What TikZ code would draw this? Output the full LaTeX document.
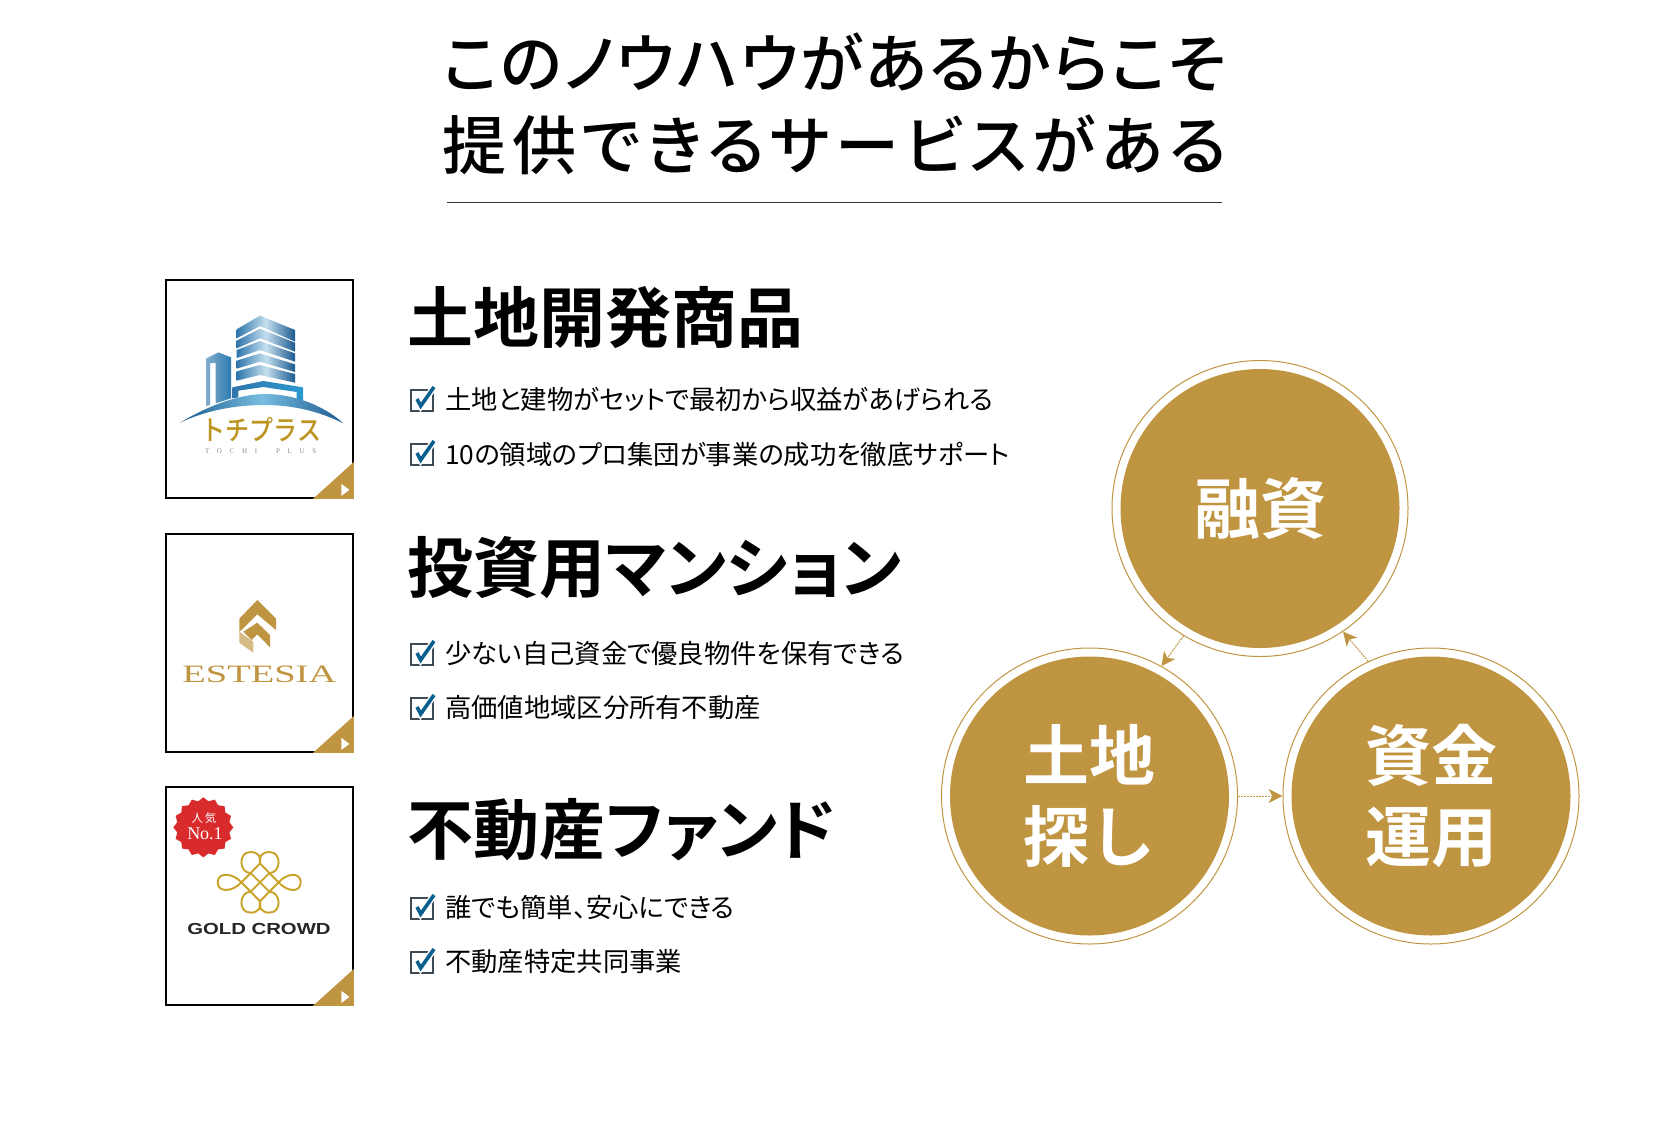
\documentclass[tikz,border=0pt]{standalone}
\usepackage{fontspec}
\usetikzlibrary{arrows.meta,shapes.geometric}
\setmainfont{Noto Sans CJK JP}
\newfontfamily\jpreg[RawFeature=+palt]{Noto Sans CJK JP}
\newfontfamily\jpbold[RawFeature=+palt]{Noto Sans CJK JP Bold}
\newfontfamily\titlea[RawFeature=+palt,LetterSpace=3.4]{Noto Sans CJK JP Medium}
\newfontfamily\titleb[RawFeature=+palt,LetterSpace=9.0]{Noto Sans CJK JP Medium}
\newfontfamily\jpplain{Noto Sans CJK JP}
\newfontfamily\jpplainbold{Noto Sans CJK JP Bold}
\newfontfamily\logoserif{Liberation Serif}
\newfontfamily\logosans{Liberation Sans Bold}
\newfontfamily\tochi{Noto Sans CJK JP Medium}
\newfontfamily\tochilatin[LetterSpace=110]{Liberation Serif}
\definecolor{gold}{HTML}{C09541}
\definecolor{boxgray}{HTML}{3E4A54}
\definecolor{chkblue}{HTML}{0B5F8E}
\definecolor{towerl}{HTML}{2F75AB}
\definecolor{towerm}{HTML}{C4DFEE}
\definecolor{towerr}{HTML}{1C5A90}
\definecolor{skyblue}{HTML}{2A9AD0}
\definecolor{tochigold}{HTML}{BC941F}
\definecolor{badgered}{HTML}{D92B2C}
\definecolor{knotgold}{HTML}{C9A227}
\tikzset{
 titletext/.style={inner sep=0,anchor=center,text height=56,text depth=6},
 headtext/.style={inner sep=0,anchor=west,font=\jpbold\fontsize{66}{66}\selectfont,text height=54,text depth=6},
 rowtext/.style={inner sep=0,anchor=west,font=\jpreg\fontsize{26.3}{26.3}\selectfont,text height=21,text depth=3},
 cardbox/.style={draw=black,line width=2.4,fill=white,minimum width=186.5,minimum height=217.5,inner sep=0,anchor=north west},
 ringnode/.style={circle,draw=gold,line width=1,minimum size=296,inner sep=0},
 discnode/.style={circle,fill=gold,minimum size=279,inner sep=0,text=white,align=center,font=\jpplainbold\fontsize{66}{81}\selectfont},
 flowarrow/.style={gold,line width=1,dash pattern=on 2 off 1,-{Stealth[length=14,width=14,inset=4,sep=0]}},
 chkbox/.pic={
  \draw[boxgray,line width=2.6] (1,1) rectangle (23,22);
  \draw[white,line width=6.5] (7,10) -- (10.7,17) -- (24,-2);
  \draw[chkblue,line width=3.6] (7,10) -- (10.7,17) -- (24,-2);
 },
 cornermark/.pic={
  \fill[gold] (-41,0) -- (0,-37) -- (0,0) -- cycle;
  \fill[white] (-12.5,-15) -- (-4.5,-9) -- (-12.5,-3) -- cycle;
 },
}
\begin{document}
\begin{tikzpicture}[x=1pt,y=-1pt]
\useasboundingbox (0,0) rectangle (1668,1120);

% title
\node[titletext] (t1) at (834.5,62) {\titlea\fontsize{64}{64}\selectfont このノウハウがあるからこそ};
\node[titletext] (t2) at (834.5,144) {\titleb\fontsize{64}{64}\selectfont 提供できるサービスがある};
\draw[line width=1,black!80] (447,202) -- (1222,202);

% cards
\node[cardbox] (c1) at (165,279) {};
\node[cardbox] (c2) at (165,533) {};
\node[cardbox] (c3) at (165,786) {};
\pic at (c1.south east) {cornermark};
\pic at (c2.south east) {cornermark};
\pic at (c3.south east) {cornermark};

% logo 1
\begin{scope}[shift={(150,270)},scale=1/3]
 \foreach \la/\lb/\pa/\pb/\ra/\rb in {178/205/137/168/180/215, 212/235/176/205/218/245, 240/264/213/240/250/275, 272/296/250/275/283/306, 304/332/285/315/312/338}{
  \shade[left color=towerl,right color=towerr,middle color=towerm] (260,\la) -- (330,\pa) -- (435,\ra) -- (435,\rb) -- (330,\pb) -- (260,\lb) -- cycle;
 }
 \shade[left color=towerl!60,right color=towerl!80!skyblue] (168,266) -- (205,247) -- (243,262) -- (243,385) -- (197,400) -- (197,278) -- (180,280) -- (180,405) -- (168,408) -- cycle;
 \shade[left color=towerl,right color=skyblue] (247,352) -- (340,333) -- (459,352) -- (459,392) -- (440,388) -- (440,366) -- (340,351) -- (265,362) -- (265,382) -- (247,385) -- cycle;
 \shade[left color=towerr,right color=towerr,middle color=towerm!50!skyblue] (90,458) .. controls (190,398) and (280,372) .. (345,372) .. controls (430,372) and (520,405) .. (580,460) .. controls (510,425) and (430,405) .. (345,405) .. controls (260,405) and (170,420) .. (90,458) -- cycle;
 \node[inner sep=0,text=tochigold] (l1a) at (335,479) {\tochi\fontsize{24}{24}\selectfont\scalebox{1}[1.15]{トチプラス}};
 \node[inner sep=0,text=black!45] (l1b) at (332,543) {\tochilatin\fontsize{7}{7}\selectfont TOCHI\ \ PLUS};
\end{scope}

% logo 2
\begin{scope}[shift={(150,520)},scale=1/3]
 \fill[gold] (322,240) -- (378,296) -- (378,330) -- (322,283) -- (279,326) -- (268,335) -- (268,296) -- cycle;
 \fill[gold] (322,308) -- (360,345) -- (360,382) -- (322,343) -- (305,360) -- (280,335) -- cycle;
 \fill[gold!65] (268,335) -- (310,365) -- (310,398) -- (268,368) -- cycle;
 \node[inner sep=0,text=gold] (l2) at (328,464) {\logoserif\fontsize{25}{25}\selectfont\scalebox{1.54}[1]{ESTESIA}};
\end{scope}

% logo 3
\begin{scope}[shift={(150,780)},scale=1/3]
 \node[star,star points=16,star point ratio=1.13,fill=badgered,minimum size=60,inner sep=0] (badge) at (160,142) {};
 \node[inner sep=0,text=white] (badgea) at (162,113) {\jpplain\fontsize{11.5}{12}\selectfont 人\,気};
 \node[inner sep=0,text=white] (badgeb) at (165,162) {\logoserif\fontsize{18}{18}\selectfont No.1};
 \begin{scope}[knotgold,line width=1.9,double=white,double distance=0.9,line join=round]
  % side and corner loops
  \draw (274,307) .. controls (250,335) and (203,340) .. (203,307) .. controls (203,275) and (250,279) .. (274,307);
  \draw (386,307) .. controls (410,335) and (452,340) .. (452,307) .. controls (452,275) and (410,279) .. (386,307);
  \draw (302,279) .. controls (268,280) and (262,216) .. (302,216) .. controls (325,216) and (335,232) .. (330,250);
  \draw (358,279) .. controls (392,280) and (398,216) .. (358,216) .. controls (335,216) and (325,232) .. (330,250);
  \draw (302,335) .. controls (268,334) and (262,398) .. (302,398) .. controls (325,398) and (335,382) .. (330,364);
  \draw (358,335) .. controls (392,334) and (398,398) .. (358,398) .. controls (335,398) and (325,382) .. (330,364);
  % lattice
  \draw (274,307) -- (302,279) -- (330,250);
  \draw (302,335) -- (330,307) -- (358,279);
  \draw (330,364) -- (358,335) -- (386,307);
  \draw (274,307) -- (302,335) -- (330,364);
  \draw (302,279) -- (330,307) -- (358,335);
  \draw (330,250) -- (358,279) -- (386,307);
 \end{scope}
 \node[inner sep=0,text=black!85] (l3) at (327,447) {\logosans\fontsize{16}{16}\selectfont\scalebox{1.27}[1]{GOLD CROWD}};
\end{scope}

% headings
\node[headtext] (h1) at (407.5,318) {土地開発商品};
\node[headtext] (h2) at (407.5,568) {投資用マンション};
\node[headtext] (h3) at (407.5,830) {不動産ファンド};

% rows
\pic at (410,389) {chkbox};
\node[rowtext] (r1) at (445,400) {土地と建物がセットで最初から収益があげられる};
\pic at (410,443) {chkbox};
\node[rowtext] (r2) at (445,455) {10の領域のプロ集団が事業の成功を徹底サポート};
\pic at (410,643) {chkbox};
\node[rowtext] (r3) at (445,654) {少ない自己資金で優良物件を保有できる};
\pic at (410,697) {chkbox};
\node[rowtext] (r4) at (445,708) {高価値地域区分所有不動産};
\pic at (410,897) {chkbox};
\node[rowtext] (r5) at (445,908) {誰でも簡単、安心にできる};
\pic at (410,951) {chkbox};
\node[rowtext] (r6) at (445,962) {不動産特定共同事業};

% circles
\node[ringnode] (finr) at (1260,508.5) {};
\node[ringnode] (landr) at (1089.5,796) {};
\node[ringnode] (fundr) at (1431,796) {};
\node[discnode] (fin) at (1260,508.5) {融資};
\node[discnode] (land) at (1089.5,796) {土地\\探し};
\node[discnode] (fund) at (1431,796) {資金\\運用};

% arrows
\draw[flowarrow] (finr.239) -- (landr.61);
\draw[flowarrow] (landr.east) -- (fundr.west);
\draw[flowarrow] (fundr.115) -- (finr.304);
\end{tikzpicture}
\end{document}
